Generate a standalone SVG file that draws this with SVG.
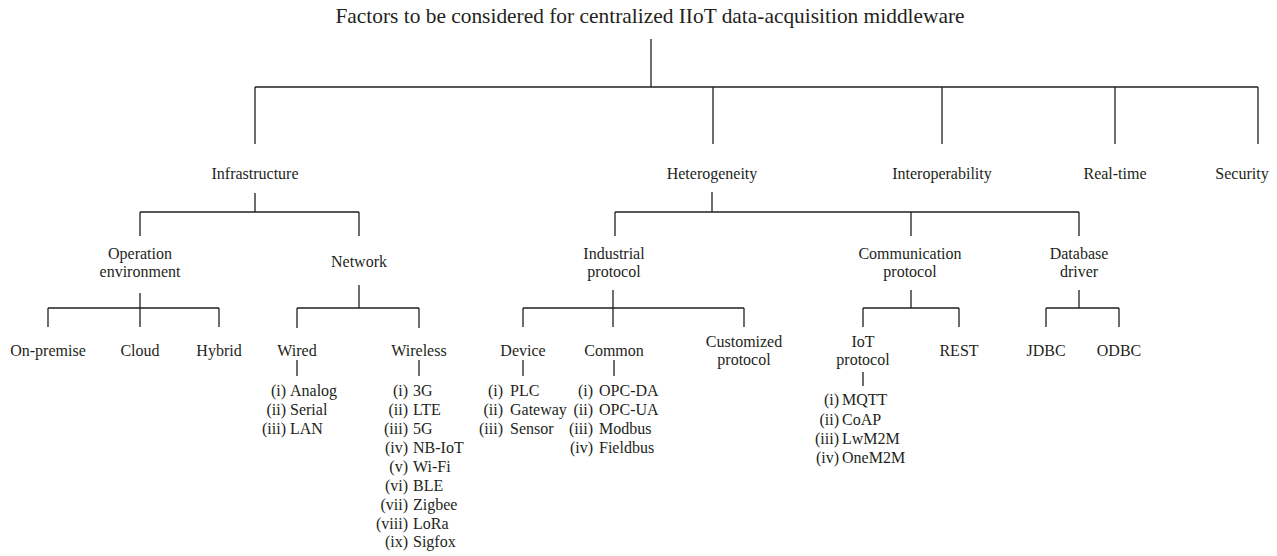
<svg xmlns="http://www.w3.org/2000/svg" width="1277" height="556" viewBox="0 0 1277 556">
<style>
text{font-family:"Liberation Serif","Times New Roman",serif;font-size:16px;fill:#231f20;text-anchor:middle}
.title{font-size:21.4px}
.m{text-anchor:end}
.it{text-anchor:start}
#connectors path{fill:none;stroke:#231f20;stroke-width:1.3}
</style>
<rect width="1277" height="556" fill="#ffffff"/>
<g id="connectors">
<path d="M651 39V87M255 87H1258M255 87V144M713 87V144M942 87V144M1115 87V144M1258 87V144"/>
<path d="M255 193V212M140 212H359M140 212V236M359 212V236"/>
<path d="M712 192V212M615 212H1079M615 212V236M911 212V236M1079 212V236"/>
<path d="M140 293V327M48 308H219M48 308V327M219 308V327"/>
<path d="M359 285V308M297 308H419M297 308V328M419 308V328"/>
<path d="M613 290V327M523 308H744M523 308V327M744 308V327"/>
<path d="M911 290V308M863 308H959M863 308V327M959 308V327"/>
<path d="M1079 290V308M1046 308H1119M1046 308V327M1119 308V327"/>
<path d="M297 360V376M419 360V376M523 360V376M614 360V376M863 372V386"/>
</g>
<g id="root"><text class="title" x="650" y="23">Factors to be considered for centralized IIoT data-acquisition middleware</text></g>
<g id="infrastructure"><text x="255" y="179">Infrastructure</text></g>
<g id="heterogeneity"><text x="712" y="179">Heterogeneity</text></g>
<g id="interoperability"><text x="942" y="179">Interoperability</text></g>
<g id="realtime"><text x="1115" y="179">Real-time</text></g>
<g id="security"><text x="1242" y="179">Security</text></g>
<g id="operation-environment"><text x="140" y="259">Operation</text><text x="140" y="277">environment</text></g>
<g id="network"><text x="359" y="267">Network</text></g>
<g id="industrial-protocol"><text x="614" y="259">Industrial</text><text x="614" y="277">protocol</text></g>
<g id="communication-protocol"><text x="910" y="259">Communication</text><text x="910" y="277">protocol</text></g>
<g id="database-driver"><text x="1079" y="259">Database</text><text x="1079" y="277">driver</text></g>
<g id="on-premise"><text x="48" y="356">On-premise</text></g>
<g id="cloud"><text x="140" y="356">Cloud</text></g>
<g id="hybrid"><text x="219" y="356">Hybrid</text></g>
<g id="wired"><text x="297" y="356">Wired</text></g>
<g id="wireless"><text x="419" y="356">Wireless</text></g>
<g id="device"><text x="523" y="356">Device</text></g>
<g id="common"><text x="614" y="356">Common</text></g>
<g id="customized-protocol"><text x="744" y="347">Customized</text><text x="744" y="365">protocol</text></g>
<g id="iot-protocol"><text x="863" y="347">IoT</text><text x="863" y="365">protocol</text></g>
<g id="rest"><text x="959" y="356">REST</text></g>
<g id="jdbc"><text x="1046" y="356">JDBC</text></g>
<g id="odbc"><text x="1119" y="356">ODBC</text></g>
<g id="wired-list">
<text class="m" x="286" y="396">(i)</text><text class="it" x="290" y="396">Analog</text>
<text class="m" x="286" y="415">(ii)</text><text class="it" x="290" y="415">Serial</text>
<text class="m" x="286" y="434">(iii)</text><text class="it" x="290" y="434">LAN</text>
</g>
<g id="wireless-list">
<text class="m" x="408" y="396">(i)</text><text class="it" x="413" y="396">3G</text>
<text class="m" x="408" y="415">(ii)</text><text class="it" x="413" y="415">LTE</text>
<text class="m" x="408" y="434">(iii)</text><text class="it" x="413" y="434">5G</text>
<text class="m" x="408" y="453">(iv)</text><text class="it" x="413" y="453">NB-IoT</text>
<text class="m" x="408" y="472">(v)</text><text class="it" x="413" y="472">Wi-Fi</text>
<text class="m" x="408" y="491">(vi)</text><text class="it" x="413" y="491">BLE</text>
<text class="m" x="408" y="510">(vii)</text><text class="it" x="413" y="510">Zigbee</text>
<text class="m" x="408" y="529">(viii)</text><text class="it" x="413" y="529">LoRa</text>
<text class="m" x="408" y="547">(ix)</text><text class="it" x="413" y="547">Sigfox</text>
</g>
<g id="device-list">
<text class="m" x="503" y="396">(i)</text><text class="it" x="510" y="396">PLC</text>
<text class="m" x="503" y="415">(ii)</text><text class="it" x="510" y="415">Gateway</text>
<text class="m" x="503" y="434">(iii)</text><text class="it" x="510" y="434">Sensor</text>
</g>
<g id="common-list">
<text class="m" x="593" y="396">(i)</text><text class="it" x="599" y="396">OPC-DA</text>
<text class="m" x="593" y="415">(ii)</text><text class="it" x="599" y="415">OPC-UA</text>
<text class="m" x="593" y="434">(iii)</text><text class="it" x="599" y="434">Modbus</text>
<text class="m" x="593" y="453">(iv)</text><text class="it" x="599" y="453">Fieldbus</text>
</g>
<g id="iot-list">
<text class="m" x="839" y="405">(i)</text><text class="it" x="842" y="405">MQTT</text>
<text class="m" x="839" y="425">(ii)</text><text class="it" x="842" y="425">CoAP</text>
<text class="m" x="839" y="444">(iii)</text><text class="it" x="842" y="444">LwM2M</text>
<text class="m" x="839" y="463">(iv)</text><text class="it" x="842" y="463">OneM2M</text>
</g>
</svg>
